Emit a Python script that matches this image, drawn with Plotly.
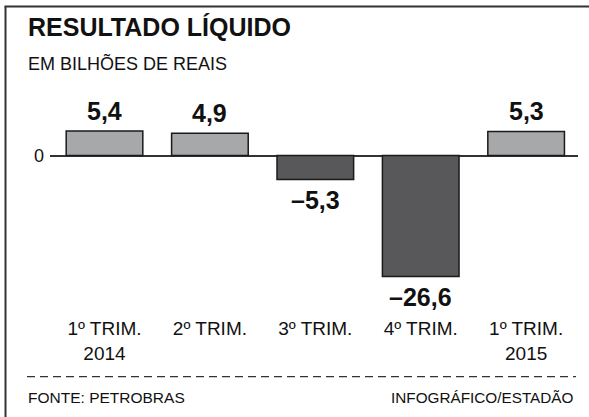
import plotly.graph_objects as go

# ---- data ----
categories = ["1º TRIM.<br>2014", "2º TRIM.", "3º TRIM.", "4º TRIM.", "1º TRIM.<br>2015"]
values = [5.4, 4.9, -5.3, -26.6, 5.3]
title_text = "RESULTADO LÍQUIDO"
subtitle_text = "EM BILHÕES DE REAIS"
source_text = "FONTE: PETROBRAS"
credit_text = "INFOGRÁFICO/ESTADÃO"

POS_COLOR = "#a7a8aa"
NEG_COLOR = "#58585a"
FONT = "Liberation Sans, Arial, Helvetica, sans-serif"

W, H = 589, 417
ML, MR, MT, MB = 50, 11, 110, 125
PW, PH = W - ML - MR, H - MT - MB


def px(x):
    return (x - ML) / PW


def py(y):
    return (H - MB - y) / PH


def fmt(v):
    s = f"{abs(v):.1f}".replace(".", ",")
    return ("–" + s) if v < 0 else s


xs = list(range(len(values)))
colors = [POS_COLOR if v >= 0 else NEG_COLOR for v in values]

fig = go.Figure(
    go.Bar(
        x=xs,
        y=values,
        width=0.727,
        marker=dict(color=colors, line=dict(color="#1a1a1a", width=1.5)),
        hoverinfo="skip",
    )
)

annotations = []
for x, v in zip(xs, values):
    annotations.append(
        dict(
            x=x, y=v, xref="x", yref="y",
            text=f"<b>{fmt(v)}</b>",
            showarrow=False,
            yanchor="bottom" if v >= 0 else "top",
            yshift=4 if v >= 0 else -4,
            font=dict(family=FONT, size=25, color="#111"),
        )
    )

annotations += [
    dict(x=px(26), y=py(27), xref="paper", yref="paper", xanchor="left", yanchor="middle",
         text=f"<b>{title_text}</b>", showarrow=False,
         font=dict(family=FONT, size=25, color="#111")),
    dict(x=px(26), y=py(63.5), xref="paper", yref="paper", xanchor="left", yanchor="middle",
         text=subtitle_text, showarrow=False,
         font=dict(family=FONT, size=18, color="#111")),
    dict(x=px(26), y=py(397.5), xref="paper", yref="paper", xanchor="left", yanchor="middle",
         text=source_text, showarrow=False,
         font=dict(family=FONT, size=15.5, color="#111")),
    dict(x=px(576), y=py(397.5), xref="paper", yref="paper", xanchor="right", yanchor="middle",
         text=credit_text, showarrow=False,
         font=dict(family=FONT, size=15.3, color="#111")),
]

shapes = [
    # frame top and left
    dict(type="line", xref="paper", yref="paper", x0=px(4.5), x1=px(589), y0=py(6.5), y1=py(6.5),
         line=dict(color="#333", width=2)),
    dict(type="line", xref="paper", yref="paper", x0=px(5.5), x1=px(5.5), y0=py(6.5), y1=py(417),
         line=dict(color="#333", width=2)),
    # dashed separator
    dict(type="line", xref="paper", yref="paper", x0=px(27), x1=px(576), y0=py(376.7), y1=py(376.7),
         line=dict(color="#333", width=1.3, dash="8px,5px")),
]

fig.update_layout(
    width=W, height=H,
    margin=dict(l=ML, r=MR, t=MT, b=MB),
    paper_bgcolor="white", plot_bgcolor="white",
    showlegend=False,
    annotations=annotations,
    shapes=shapes,
    font=dict(family=FONT, color="#111"),
    xaxis=dict(
        range=[-0.517, 4.492],
        tickvals=xs, ticktext=categories,
        showgrid=False, zeroline=False, showline=False, ticks="",
        tickfont=dict(family=FONT, size=19, color="#111"),
        ticklabelstandoff=23,
        fixedrange=True,
    ),
    yaxis=dict(
        range=[-30, 10],
        tickvals=[0], ticktext=["0"],
        showgrid=False, zeroline=True, zerolinecolor="#333", zerolinewidth=1.5,
        showline=False, ticks="",
        tickfont=dict(family=FONT, size=18, color="#111"),
        ticklabelstandoff=5,
        fixedrange=True,
    ),
)

fig.write_html(
    "out.html",
    config=dict(displayModeBar=False),
    post_script="document.body.style.margin='0';document.body.style.overflow='hidden';",
)
